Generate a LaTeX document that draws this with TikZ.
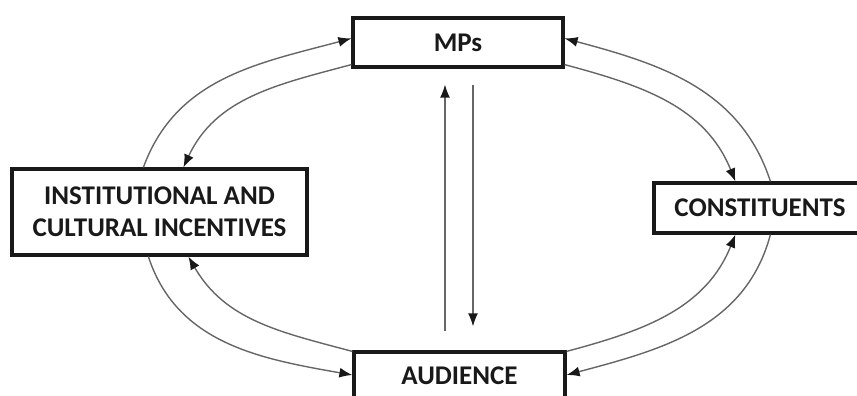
\documentclass[tikz,border=0pt]{standalone}
\usepackage{fontspec}
\setsansfont{Carlito}
\usetikzlibrary{arrows.meta,calc}

\begin{document}
\begin{tikzpicture}[x=1pt,y=1pt,
  box/.style={draw=black!90,line width=3.2pt,rectangle,inner sep=0pt,
    text=black!90,font=\sffamily\bfseries\fontsize{27}{32}\selectfont,align=center},
  link/.style={draw=black!60,line width=1.4pt,
    -{Latex[length=13pt,width=10pt,color=black!90]}}]
\useasboundingbox (0,0) rectangle (857,-396);

\node[box,minimum width=210,minimum height=49] (mps) at (458,-42.5) {MPs};
\node[box,minimum width=295,minimum height=86] (inst) at (159.5,-212)
  {INSTITUTIONAL AND\\CULTURAL INCENTIVES};
\node[box,minimum width=212,minimum height=50] (cons) at (760,-208) {CONSTITUENTS};
\node[box,minimum width=211,minimum height=48] (aud) at (459.5,-376) {AUDIENCE};

% MPs and institutions
\draw[link] ([xshift=133]inst.north west) to[out=70,in=195] ([yshift=-22]mps.north west);
\draw[link] ([yshift=4]mps.south west) to[out=195,in=65] ([xshift=173]inst.north west);

% MPs and constituents
\draw[link] ([xshift=118]cons.north west) to[out=108,in=-15] ([yshift=-22]mps.north east);
\draw[link] ([yshift=4]mps.south east) to[out=-15,in=112] ([xshift=83]cons.north west);

% audience and constituents
\draw[link] ([yshift=-1]aud.north east) to[out=15,in=-112] ([xshift=83]cons.south west);
\draw[link] ([xshift=118]cons.south west) to[out=-105,in=15] ([yshift=1]aud.east);

% audience and institutions
\draw[link] ([xshift=138]inst.south west) to[out=-72,in=170] ([yshift=1]aud.west);
\draw[link] ([yshift=-1]aud.north west) to[out=165,in=-60] ([xshift=178]inst.south west);

% MPs and audience
\draw[link] ($(aud.north)+(-14.5,19)$) -- ($(mps.south)+(-13,-16)$);
\draw[link] ($(mps.south)+(15,-16)$) -- ($(aud.north)+(13.5,24)$);
\end{tikzpicture}
\end{document}
